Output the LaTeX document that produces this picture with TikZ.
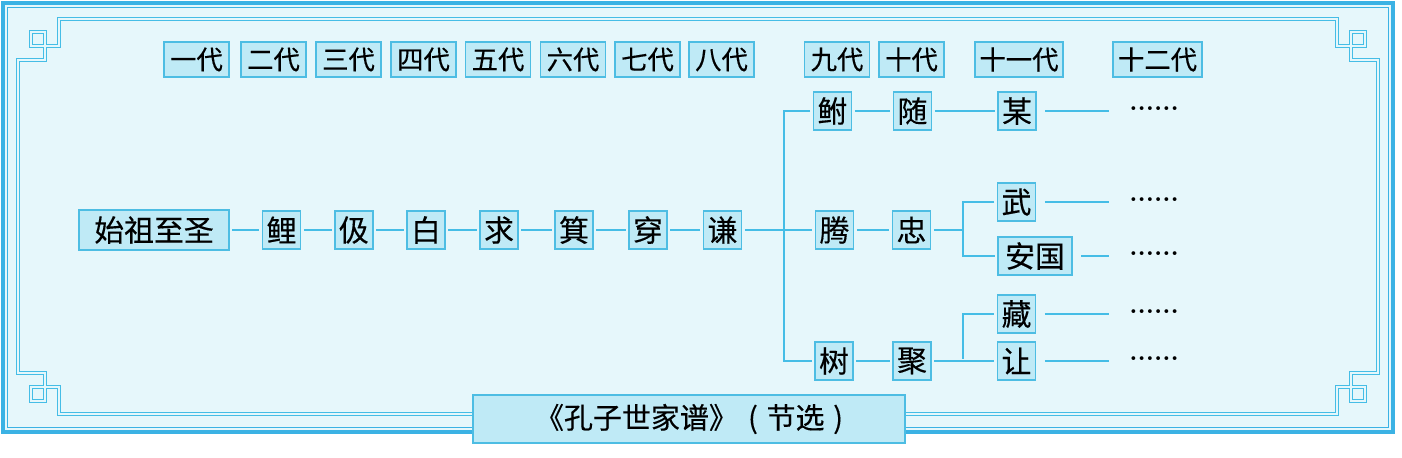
\documentclass[tikz,border=0pt]{standalone}
\usepackage{fontspec}
\newfontfamily\cjk[FakeBold=0.3]{Noto Sans CJK SC}
\definecolor{frameblue}{HTML}{3BB2E4}
\definecolor{lineblue}{HTML}{45BDE6}
\definecolor{boxfill}{HTML}{BFEAF6}
\definecolor{bgfill}{HTML}{E6F7FB}
\definecolor{boxdraw}{HTML}{4DBDE3}
\tikzset{
  box/.style={draw=boxdraw, fill=boxfill, line width=0.9pt, inner sep=0pt,
    font=\cjk\fontsize{17}{17}\selectfont, minimum width=0.76cm, minimum height=0.76cm},
  gen/.style={box, font=\cjk\fontsize{15}{15}\selectfont, minimum width=1.3cm, minimum height=0.7cm},
  link/.style={draw=lineblue, line width=1.1pt, shorten <=0.05cm, shorten >=0.05cm},
  tail/.style={draw=lineblue, line width=1.1pt, shorten <=0.17cm},
  dotstext/.style={font=\bfseries\fontsize{15}{15}\selectfont, inner sep=0pt},
  frettrace/.style={draw=lineblue, line width=0.6pt, double=bgfill, double distance=0.055cm},
}
\begin{document}
\begin{tikzpicture}[x=0.02cm, y=-0.02cm]
\useasboundingbox (0,0) rectangle (1402,457);
% background and outer frame
\fill[bgfill] (3,3) rectangle (1393,432);
\draw[frameblue, line width=2.6pt] (3,3) rectangle (1393,432);
\draw[frameblue, line width=0.7pt] (7.5,7.5) rectangle (1388.5,427.5);
% inner fret border
\def\L{18}\def\R{1378}\def\T{19}\def\B{414}
\def\a{13}\def\b{27}\def\c{41}
\draw[frettrace]
  (\L+\c,\T) -- (\R-\c,\T)
  -- (\R-\c,\T+\b) -- (\R-\a,\T+\b) -- (\R-\a,\T+\a) -- (\R-\b,\T+\a) -- (\R-\b,\T+\c) -- (\R,\T+\c)
  -- (\R,\B-\c)
  -- (\R-\b,\B-\c) -- (\R-\b,\B-\a) -- (\R-\a,\B-\a) -- (\R-\a,\B-\b) -- (\R-\c,\B-\b) -- (\R-\c,\B)
  -- (\L+\c,\B)
  -- (\L+\c,\B-\b) -- (\L+\a,\B-\b) -- (\L+\a,\B-\a) -- (\L+\b,\B-\a) -- (\L+\b,\B-\c) -- (\L,\B-\c)
  -- (\L,\T+\c)
  -- (\L+\b,\T+\c) -- (\L+\b,\T+\a) -- (\L+\a,\T+\a) -- (\L+\a,\T+\b) -- (\L+\c,\T+\b) -- cycle;

% generation labels
\node[gen] (g1) at (196.5,59.5) {一代};
\node[gen] (g2) at (273.5,59.5) {二代};
\node[gen] (g3) at (348.5,59.5) {三代};
\node[gen] (g4) at (423.5,59.5) {四代};
\node[gen] (g5) at (498,59.5) {五代};
\node[gen] (g6) at (573,59.5) {六代};
\node[gen] (g7) at (647.5,59.5) {七代};
\node[gen] (g8) at (721.5,59.5) {八代};
\node[gen] (g9) at (837,59.5) {九代};
\node[gen] (g10) at (911.5,59.5) {十代};
\node[gen, minimum width=1.76cm] (g11) at (1019,59.5) {十一代};
\node[gen, minimum width=1.78cm] (g12) at (1157.5,59.5) {十二代};

% main line
\node[box, minimum width=3.0cm, minimum height=0.8cm] (n0) at (154,230) {始祖至圣};
\node[box] (n1) at (281.5,230) {鲤};
\node[box] (n2) at (354,230) {伋};
\node[box] (n3) at (426,230) {白};
\node[box] (n4) at (499,230) {求};
\node[box] (n5) at (574,230) {箕};
\node[box] (n6) at (648,230) {穿};
\node[box] (n7) at (722.5,230) {谦};
\node[box] (n8) at (834.5,230) {腾};
\node[box] (n9) at (911.5,230) {忠};
\node[box] (wu) at (1016.5,202) {武};
\node[box, minimum width=1.48cm] (ag) at (1035,256) {安国};
\node[box] (fu) at (832.5,111) {鲋};
\node[box] (sui) at (912.5,111) {随};
\node[box] (mou) at (1017,111) {某};
\node[box] (shu) at (834,361) {树};
\node[box] (ju) at (912,361) {聚};
\node[box] (cang) at (1016.5,314) {藏};
\node[box] (rang) at (1016.5,361) {让};

% connectors
\draw[link] (n0) -- (n1);
\draw[link] (n1) -- (n2);
\draw[link] (n2) -- (n3);
\draw[link] (n3) -- (n4);
\draw[link] (n4) -- (n5);
\draw[link] (n5) -- (n6);
\draw[link] (n6) -- (n7);
\draw[link] (n7) -- (n8);
\coordinate (tt) at (784,111);
\coordinate (tb) at (784,361);
\draw[link] (fu) -- (tt) -- (tb) -- (shu);
\draw[link] (fu) -- (sui);
\draw[link] (sui) -- (mou);
\draw[link] (n8) -- (n9);
\coordinate (z0) at (963,230);
\coordinate (z1) at (963,202);
\coordinate (z2) at (963,256);
\draw[link, shorten >=0pt] (n9) -- (z0);
\draw[link] (wu) -- (z1) -- (z2) -- (ag);
\draw[link] (shu) -- (ju);
\draw[link] (ju) -- (rang);
\coordinate (j1) at (963,361);
\coordinate (j2) at (963,314);
\draw[link] (j1) -- (j2) -- (cang);

% tails and dots
\coordinate (e1) at (1109,111);
\coordinate (e2) at (1109,202);
\coordinate (e3) at (1109,256);
\coordinate (e4) at (1109,314);
\coordinate (e5) at (1109,361);
\draw[tail] (mou) -- (e1);
\draw[tail] (wu) -- (e2);
\draw[tail] (ag) -- (e3);
\draw[tail] (cang) -- (e4);
\draw[tail] (rang) -- (e5);
\node[dotstext] (d1) at (1154,109) {......};
\node[dotstext] (d2) at (1154,200) {......};
\node[dotstext] (d3) at (1154,254) {......};
\node[dotstext] (d4) at (1154,312) {......};
\node[dotstext] (d5) at (1154,359) {......};

% title
\node[draw=boxdraw, fill=boxfill, line width=1.4pt, inner sep=0pt,
  minimum width=8.64cm, minimum height=0.96cm,
  font=\cjk\fontsize{16.5}{16.5}\selectfont] (title) at (689,419)
  {《孔子世家谱》\hspace{0.35em}(\hspace{0.3em}节选\hspace{0.3em})};
\end{tikzpicture}
\end{document}
